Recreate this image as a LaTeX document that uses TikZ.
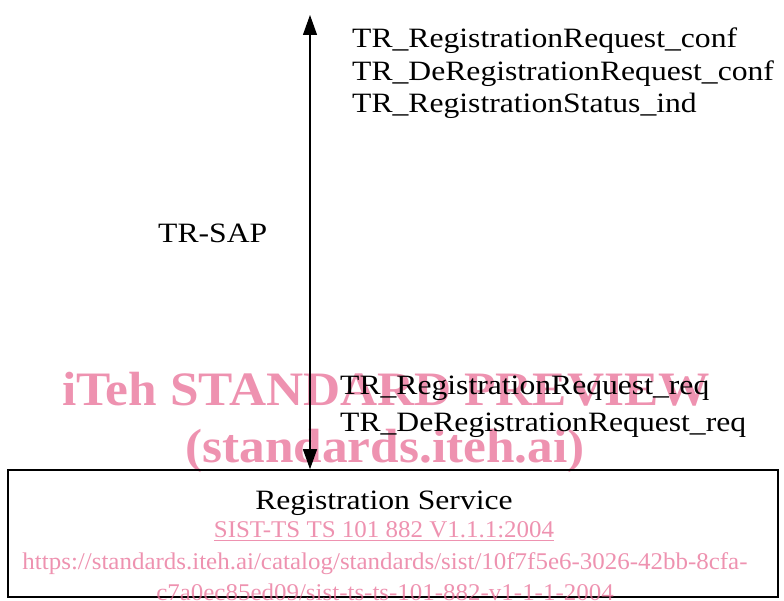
\documentclass[tikz,border=0pt]{standalone}
\usepackage{fontspec}
\setmainfont[FakeStretch=1.13]{Liberation Serif}
\newfontfamily\wmfont[FakeStretch=1.07]{Liberation Serif}
\newfontfamily\lnkfont[FakeStretch=1.04]{Liberation Serif}
\usetikzlibrary{arrows.meta}
\definecolor{wmpink}{RGB}{232,110,150}
\begin{document}
\begin{tikzpicture}[x=1bp, y=1bp,
    lbl/.style={anchor=base west, inner sep=0pt, font=\fontsize{28bp}{32bp}\selectfont},
    wm/.style={anchor=base, inner sep=0pt, text=wmpink, text opacity=0.75,
        font=\wmfont\bfseries\fontsize{48bp}{52bp}\selectfont},
    lnk/.style={anchor=base, inner sep=0pt, text=wmpink, text opacity=0.75,
        font=\lnkfont\fontsize{24bp}{28bp}\selectfont}]
    \useasboundingbox (0,0) rectangle (784,601);
    % watermark
    \node[wm] (wmA) at (386,195) {iTeh STANDARD PREVIEW};
    \node[wm] (wmB) at (385,138) {(standards.iteh.ai)};
    % the service box at the bottom
    \node[draw, line width=1.5bp, minimum width=770bp, minimum height=127bp, inner sep=0pt] (regsvc) at (393,67.5) {};
    \node[lbl, anchor=base] (regname) at (384,91) {Registration Service};
    \node[lnk] (lnkA) at (384,63) {\underline{SIST-TS TS 101 882 V1.1.1:2004}};
    \node[lnk] (lnkB) at (385,31) {https://standards.iteh.ai/catalog/standards/sist/10f7f5e6-3026-42bb-8cfa-};
    \node[lnk] (lnkC) at (385,0) {c7a0ec85ed09/sist-ts-ts-101-882-v1-1-1-2004};
    % the SAP, arrows at both ends
    \coordinate (sapTop) at (310,586);
    \draw[line width=1.2bp, {Triangle[length=20bp,width=14bp]}-{Triangle[length=20bp,width=14bp]}]
        (sapTop) -- (sapTop |- regsvc.north);
    \node[lbl] (sap) at (158,358) {TR-SAP};
    % primitives going up
    \foreach \txt [count=\k] in {TR\_RegistrationRequest\_conf, TR\_DeRegistrationRequest\_conf, TR\_RegistrationStatus\_ind}{
        \node[lbl] (conf\k) at (352,553-32.5*\k+32.5) {\txt};
    }
    % primitives going down
    \foreach \txt [count=\k] in {TR\_RegistrationRequest\_req, TR\_DeRegistrationRequest\_req}{
        \node[lbl] (req\k) at (340,206-37*\k+37) {\txt};
    }
\end{tikzpicture}
\end{document}
